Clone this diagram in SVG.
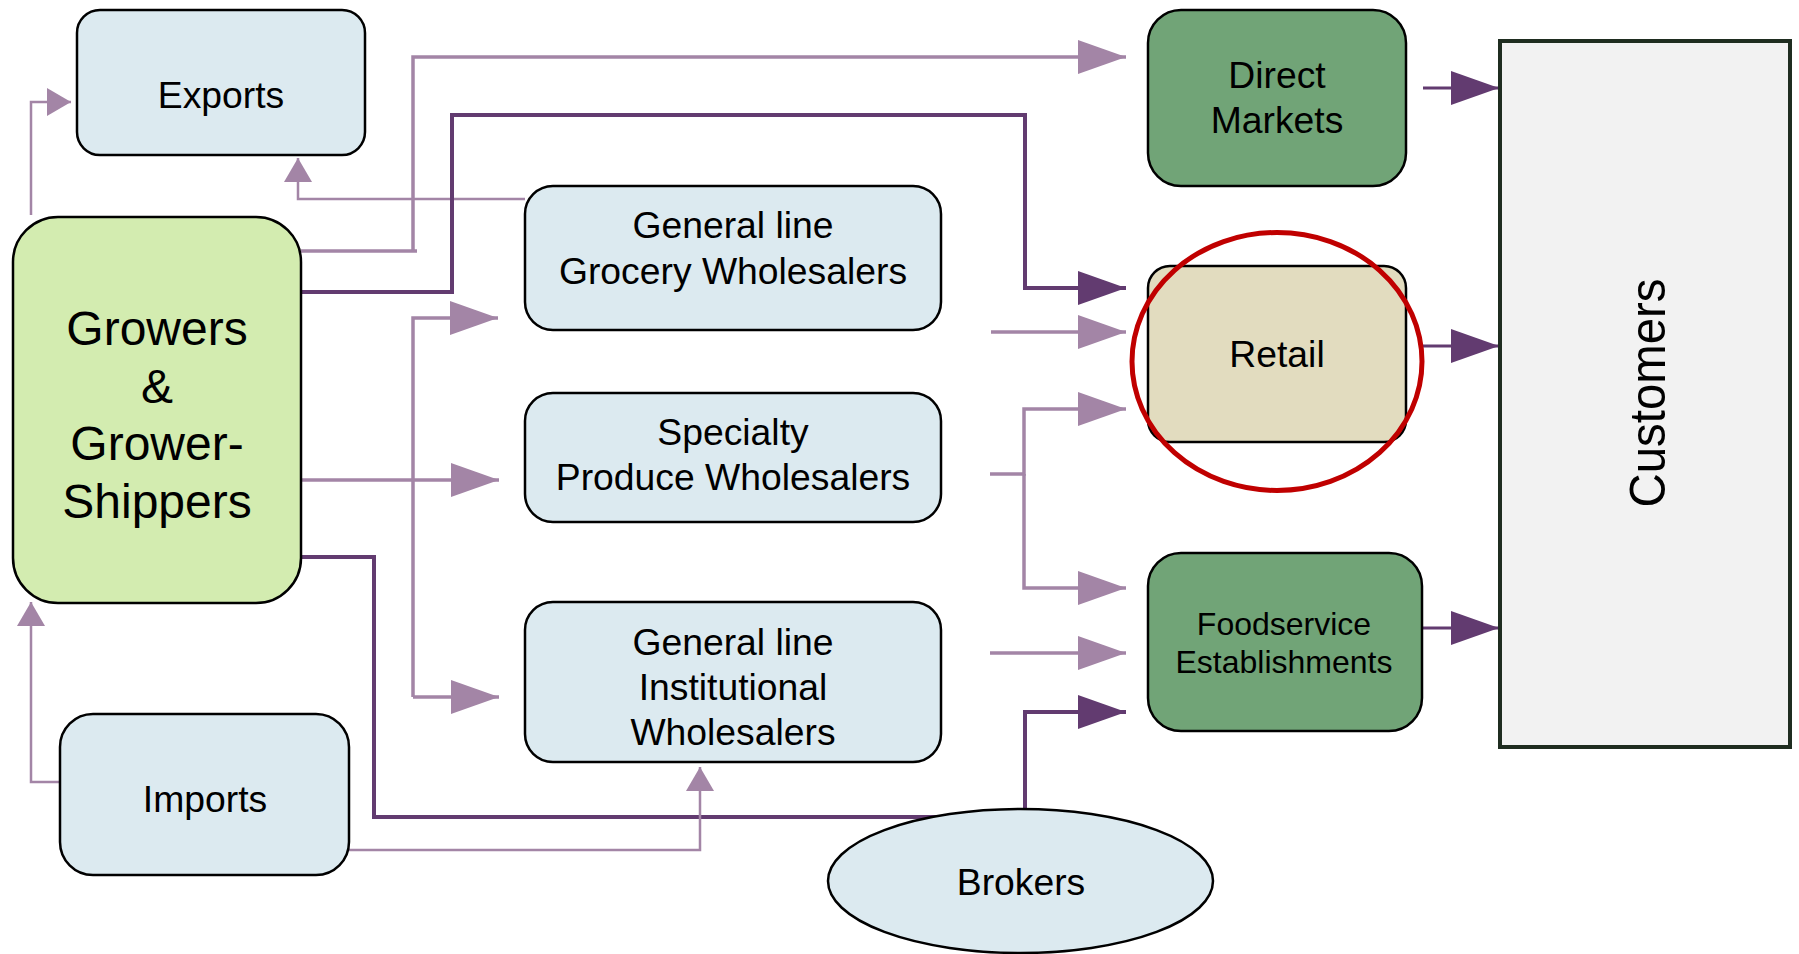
<svg xmlns="http://www.w3.org/2000/svg" width="1799" height="954" viewBox="0 0 1799 954">
  <style>
    text { font-family: "Liberation Sans", Arial, sans-serif; fill: #000; text-anchor: middle; }
    .box { stroke: #000; stroke-width: 2.5; }
    .blue { fill: #dceaf0; }
    .green { fill: #71a477; }
    .t36 { font-size: 37.3px; }
    .t32 { font-size: 32px; }
    .t47 { font-size: 48px; }
    .cl { fill: none; stroke: #a385a6; stroke-width: 3.5; }
    .cs { fill: none; stroke: #a385a6; stroke-width: 2.5; }
    .cd { fill: none; stroke: #623b70; stroke-width: 4; }
    .cd3 { fill: none; stroke: #623b70; stroke-width: 3; }
  </style>
  <defs>
    <marker id="ahL" markerUnits="userSpaceOnUse" markerWidth="50" markerHeight="36" refX="48" refY="17" orient="auto">
      <path d="M0,0 L48,17 L0,34 z" fill="#a385a6"/>
    </marker>
    <marker id="ahD" markerUnits="userSpaceOnUse" markerWidth="50" markerHeight="36" refX="48" refY="17" orient="auto">
      <path d="M0,0 L48,17 L0,34 z" fill="#623b70"/>
    </marker>
    <marker id="ahS" markerUnits="userSpaceOnUse" markerWidth="26" markerHeight="30" refX="24" refY="14" orient="auto">
      <path d="M0,0 L24,14 L0,28 z" fill="#a385a6"/>
    </marker>
  </defs>

  <rect width="1799" height="954" fill="#fff"/>

  <g id="connectors">
    <path class="cs" d="M31,215 V102 H71" marker-end="url(#ahS)"/>
    <path class="cs" d="M525,199 H298 V158" marker-end="url(#ahS)"/>
    <path class="cl" d="M301,251 H417 M413,251 V57 H1126" marker-end="url(#ahL)"/>
    <path class="cd" d="M301,292 H452 V115 H1025 V288 H1126" marker-end="url(#ahD)"/>
    <path class="cl" d="M991,332 H1126" marker-end="url(#ahL)"/>
    <path class="cl" d="M413,697 V318 H498" marker-end="url(#ahL)"/>
    <path class="cl" d="M413,697 H499" marker-end="url(#ahL)"/>
    <path class="cl" d="M301,480 H499" marker-end="url(#ahL)"/>
    <path class="cd" d="M301,557 H374 V817 H1000"/>
    <path class="cd" d="M1025,812 V712 H1126" marker-end="url(#ahD)"/>
    <path class="cs" d="M60,782 H31 V602" marker-end="url(#ahS)"/>
    <path class="cs" d="M349,850 H700 V767" marker-end="url(#ahS)"/>
    <path class="cl" d="M990,474 H1024 V409 H1126" marker-end="url(#ahL)"/>
    <path class="cl" d="M1024,474 V588 H1126" marker-end="url(#ahL)"/>
    <path class="cl" d="M990,653 H1126" marker-end="url(#ahL)"/>
    <path class="cd3" d="M1423,88 H1499" marker-end="url(#ahD)"/>
    <path class="cd3" d="M1423,346 H1499" marker-end="url(#ahD)"/>
    <path class="cd3" d="M1422,628 H1499" marker-end="url(#ahD)"/>
  </g>

  <g id="exports">
    <rect class="box blue" x="77" y="10" width="288" height="145" rx="23"/>
    <text class="t36" x="221" y="108">Exports</text>
  </g>

  <g id="growers">
    <rect class="box" x="13" y="217" width="288" height="386" rx="45" fill="#d3ecb0"/>
    <text class="t47" x="157" y="345">Growers</text>
    <text class="t47" x="157" y="403">&amp;</text>
    <text class="t47" x="157" y="460">Grower-</text>
    <text class="t47" x="157" y="518">Shippers</text>
  </g>

  <g id="imports">
    <rect class="box blue" x="60" y="714" width="289" height="161" rx="33"/>
    <text class="t36" x="205" y="812">Imports</text>
  </g>

  <g id="grocery-wholesalers">
    <rect class="box blue" x="525" y="186" width="416" height="144" rx="28"/>
    <text class="t36" x="733" y="238">General line</text>
    <text class="t36" x="733" y="284">Grocery Wholesalers</text>
  </g>

  <g id="specialty-wholesalers">
    <rect class="box blue" x="525" y="393" width="416" height="129" rx="28"/>
    <text class="t36" x="733" y="445">Specialty</text>
    <text class="t36" x="733" y="490">Produce Wholesalers</text>
  </g>

  <g id="institutional-wholesalers">
    <rect class="box blue" x="525" y="602" width="416" height="160" rx="28"/>
    <text class="t36" x="733" y="655">General line</text>
    <text class="t36" x="733" y="700">Institutional</text>
    <text class="t36" x="733" y="745">Wholesalers</text>
  </g>

  <g id="brokers">
    <ellipse class="box blue" cx="1020.5" cy="881" rx="192.5" ry="72"/>
    <text class="t36" x="1021" y="895">Brokers</text>
  </g>

  <g id="direct-markets">
    <rect class="box green" x="1148" y="10" width="258" height="176" rx="33"/>
    <text class="t36" x="1277" y="88">Direct</text>
    <text class="t36" x="1277" y="133">Markets</text>
  </g>

  <g id="retail">
    <rect class="box" x="1148" y="266" width="258" height="176" rx="22" fill="#e2dcbf"/>
    <text class="t36" x="1277" y="367">Retail</text>
    <ellipse cx="1277" cy="361.5" rx="145" ry="129" fill="none" stroke="#c00000" stroke-width="5"/>
  </g>

  <g id="foodservice">
    <rect class="box green" x="1148" y="553" width="274" height="178" rx="33"/>
    <text class="t32" x="1284" y="635">Foodservice</text>
    <text class="t32" x="1284" y="673">Establishments</text>
  </g>

  <g id="customers">
    <rect x="1500" y="41" width="290" height="706" fill="#f2f2f2" stroke="#1f2d20" stroke-width="4"/>
    <text transform="translate(1665,393) rotate(-90)" font-size="50" textLength="229" lengthAdjust="spacingAndGlyphs">Customers</text>
  </g>
</svg>
